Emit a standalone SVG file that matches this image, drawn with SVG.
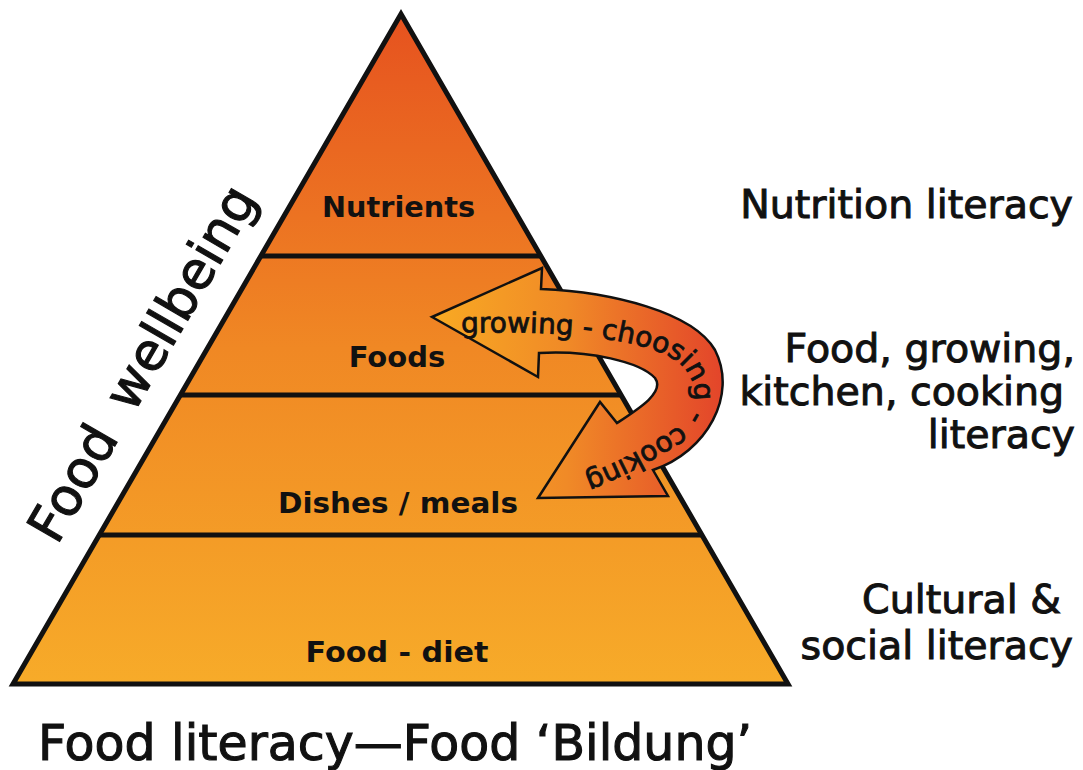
<svg xmlns="http://www.w3.org/2000/svg" width="1083" height="770" viewBox="0 0 1083 770">
  <defs>
    <linearGradient id="pyrGrad" gradientUnits="userSpaceOnUse" x1="0" y1="14" x2="0" y2="684">
      <stop offset="0" stop-color="#E6521F"/>
      <stop offset="0.5" stop-color="#F08824"/>
      <stop offset="1" stop-color="#F7AB29"/>
    </linearGradient>
    <linearGradient id="arrowGrad" gradientUnits="userSpaceOnUse" x1="440" y1="0" x2="722" y2="0">
      <stop offset="0" stop-color="#F8A823"/>
      <stop offset="0.45" stop-color="#F08A27"/>
      <stop offset="1" stop-color="#E3452A"/>
    </linearGradient>
    <path id="arrowText" d="M 458,333 C 560,330 645,338 678,362 C 702,382 699,416 671,431 C 640,449 610,470 540,490"/>
    <style>
      .band { fill: url(#pyrGrad); stroke: none; }
      .lbl { font-family: "DejaVu Sans", "Liberation Sans", sans-serif; font-weight: bold; font-size: 29px; fill: #111; text-anchor: middle; }
      .side { font-family: "DejaVu Sans", "Liberation Sans", sans-serif; font-size: 39.5px; fill: #111; stroke: #111; stroke-width: 1; text-anchor: end; }
      .title { font-family: "DejaVu Sans", "Liberation Sans", sans-serif; fill: #111; stroke: #111; stroke-width: 1.1; }
      .edge { fill: none; stroke: #111; stroke-width: 5; stroke-linejoin: miter; }
      .arrow { fill: url(#arrowGrad); stroke: #111; stroke-width: 2.5; stroke-linejoin: miter; }
      .atext { font-family: "DejaVu Sans", "Liberation Sans", sans-serif; font-size: 28px; fill: #111; stroke: #111; stroke-width: 0.8; }
    </style>
  </defs>

  <g id="layer-nutrients">
    <polygon class="band" points="401,14 540.8,256 260.9,256"/>
    <text class="lbl" x="398.5" y="217" textLength="153" lengthAdjust="spacingAndGlyphs">Nutrients</text>
  </g>
  <g id="layer-foods">
    <polygon class="band" points="260.9,256 540.8,256 621.1,395 180.4,395"/>
    <text class="lbl" x="397" y="367">Foods</text>
  </g>
  <g id="layer-dishes">
    <polygon class="band" points="180.4,395 621.1,395 701.9,535 99.3,535"/>
    <text class="lbl" x="398" y="513" textLength="240" lengthAdjust="spacingAndGlyphs">Dishes / meals</text>
  </g>
  <g id="layer-diet">
    <polygon class="band" points="99.3,535 701.9,535 788,684 13,684"/>
    <text class="lbl" x="397" y="662" textLength="183" lengthAdjust="spacingAndGlyphs">Food - diet</text>
  </g>

  <g id="pyramid-outline">
    <line class="edge" x1="260.9" y1="256" x2="540.8" y2="256"/>
    <line class="edge" x1="180.4" y1="395" x2="621.1" y2="395"/>
    <line class="edge" x1="99.3" y1="535" x2="701.9" y2="535"/>
    <polygon class="edge" points="401,14 788,684 13,684"/>
  </g>

  <g id="connectors">
    <path class="arrow" d="M 432,317 L 542,268 L 541,289 C 612,292 693,312 715,350 C 738,395 707,452 653,470 L 668,496 L 538,498 L 600,402 L 617,423 C 640,408 665,392 655,378 C 640,362 590,350 539,353 L 538,377 Z"/>
    <text class="atext"><textPath href="#arrowText" startOffset="3">growing - choosing - cooking</textPath></text>
  </g>

  <g id="label-nutrition">
    <text class="side" x="1073" y="218">Nutrition literacy</text>
  </g>
  <g id="label-food-growing">
    <text class="side" x="1075" y="362">Food, growing,</text>
    <text class="side" x="1064" y="405">kitchen, cooking</text>
    <text class="side" x="1075" y="448">literacy</text>
  </g>
  <g id="label-cultural">
    <text class="side" x="1061" y="613">Cultural &amp;</text>
    <text class="side" x="1073" y="659">social literacy</text>
  </g>

  <g id="label-wellbeing">
    <text class="title" font-size="52" transform="translate(57,546) rotate(-59.9)">Food<tspan dx="28">wellbeing</tspan></text>
  </g>
  <g id="label-bottom">
    <text class="title" font-size="49" x="38" y="760">Food literacy—Food ‘Bildung’</text>
  </g>
</svg>
